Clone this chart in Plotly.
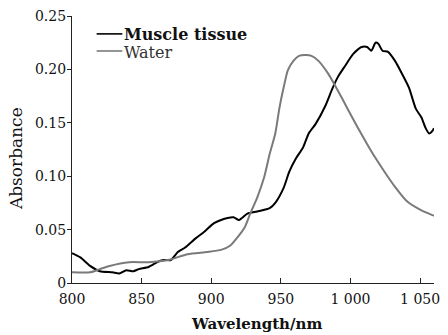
import plotly.graph_objects as go

# Muscle tissue spectrum
muscle_nm = [800, 806, 813, 820, 829, 834, 839, 844, 848, 855, 862, 866, 871, 876, 881, 889,
             895, 902, 909, 916, 920, 926, 933, 942, 946, 952, 956, 961, 966, 970, 975, 982,
             987, 991, 996, 1002, 1008, 1012, 1015, 1018, 1020, 1023, 1027, 1032, 1037, 1042,
             1047, 1051, 1054, 1056.5, 1059, 1060]
muscle_abs = [0.028, 0.024, 0.016, 0.011, 0.010, 0.009, 0.012, 0.011, 0.013, 0.015, 0.020, 0.0215,
              0.0215, 0.029, 0.033, 0.042, 0.048, 0.056, 0.060, 0.0616, 0.059, 0.065, 0.067, 0.070,
              0.075, 0.089, 0.104, 0.117, 0.127, 0.140, 0.149, 0.166, 0.182, 0.193, 0.203, 0.2145,
              0.221, 0.221, 0.2175, 0.225, 0.224, 0.2175, 0.2165, 0.208, 0.196, 0.183, 0.163, 0.155,
              0.145, 0.140, 0.1427, 0.145]

# Water spectrum
water_nm = [800, 813, 820, 827, 841, 855, 869, 883, 897, 907, 914, 919, 924, 928, 933, 938, 942,
            946, 949, 952, 955, 959, 963, 968, 972, 977, 984, 991, 998, 1005, 1012, 1018, 1023,
            1032, 1041, 1051, 1059, 1060]
water_abs = [0.010, 0.010, 0.013, 0.016, 0.0195, 0.0195, 0.0215, 0.027, 0.029, 0.031, 0.0354,
             0.043, 0.052, 0.065, 0.080, 0.099, 0.121, 0.140, 0.164, 0.183, 0.199, 0.208, 0.2127,
             0.2135, 0.2127, 0.208, 0.196, 0.180, 0.163, 0.146, 0.130, 0.117, 0.107, 0.090, 0.076,
             0.068, 0.0635, 0.063]

series_names = ["Muscle tissue", "Water"]
series_colors = ["#000000", "#7a7a7a"]

x_tickvals = [800, 850, 900, 950, 1000, 1050]
x_ticktext = ["800", "850", "900", "950", "1 000", "1 050"]
y_tickvals = [0, 0.05, 0.10, 0.15, 0.20, 0.25]
y_ticktext = ["0", "0.05", "0.10", "0.15", "0.20", "0.25"]

FONT = "DejaVu Serif"

fig = go.Figure()
fig.add_trace(go.Scatter(x=muscle_nm, y=muscle_abs, mode="lines", name=series_names[0],
                         showlegend=False,
                         line=dict(color=series_colors[0], width=2, shape="spline", smoothing=0.6)))
fig.add_trace(go.Scatter(x=water_nm, y=water_abs, mode="lines", name=series_names[1],
                         showlegend=False,
                         line=dict(color=series_colors[1], width=2, shape="spline", smoothing=0.6)))

# legend drawn as key lines + labels (paper coordinates)
legend_rows_y = [0.933, 0.869]
shapes = []
annotations = []
for i, (nm, col) in enumerate(zip(series_names, series_colors)):
    yy = legend_rows_y[i]
    shapes.append(dict(type="line", xref="paper", yref="paper", x0=0.068, x1=0.139,
                       y0=yy, y1=yy, line=dict(color=col, width=1.6)))
    label = f"<b>{nm}</b>" if i == 0 else nm
    annotations.append(dict(text=label, xref="paper", yref="paper", x=0.139, y=yy - 0.004,
                            xanchor="left", yanchor="middle", showarrow=False,
                            font=dict(family=FONT, size=16, color="#111" if i == 0 else "#333")))

annotations.append(dict(text="Absorbance", textangle=-90, xref="paper", yref="paper",
                        x=-0.156, y=0.466, xanchor="center", yanchor="middle", showarrow=False,
                        font=dict(family=FONT, size=17, color="#111")))
annotations.append(dict(text="<b>Wavelength/nm</b>", xref="paper", yref="paper",
                        x=0.51, y=-0.153, xanchor="center", yanchor="middle", showarrow=False,
                        font=dict(family=FONT, size=15, color="#111")))

fig.update_layout(
    width=448, height=335,
    margin=dict(l=72, r=8, t=15, b=52),
    paper_bgcolor="white", plot_bgcolor="white",
    font=dict(family=FONT, size=14, color="#111"),
    showlegend=False,
    xaxis=dict(range=[800, 1060], tickmode="array", tickvals=x_tickvals, ticktext=x_ticktext,
               ticks="inside", ticklen=5, tickcolor="#222", showline=True, linecolor="#222",
               linewidth=1.2, showgrid=False, zeroline=False, mirror=False,
               ticklabelstandoff=3,
               tickfont=dict(family=FONT, size=14, color="#111")),
    yaxis=dict(range=[0, 0.25], tickmode="array", tickvals=y_tickvals, ticktext=y_ticktext,
               ticks="outside", ticklen=4, tickcolor="#222", showline=True, linecolor="#222",
               linewidth=1.2, showgrid=False, zeroline=False, mirror=False,
               ticklabelstandoff=-2,
               tickfont=dict(family=FONT, size=14, color="#111")),
    shapes=shapes,
    annotations=annotations,
)

fig.write_html("out.html")
